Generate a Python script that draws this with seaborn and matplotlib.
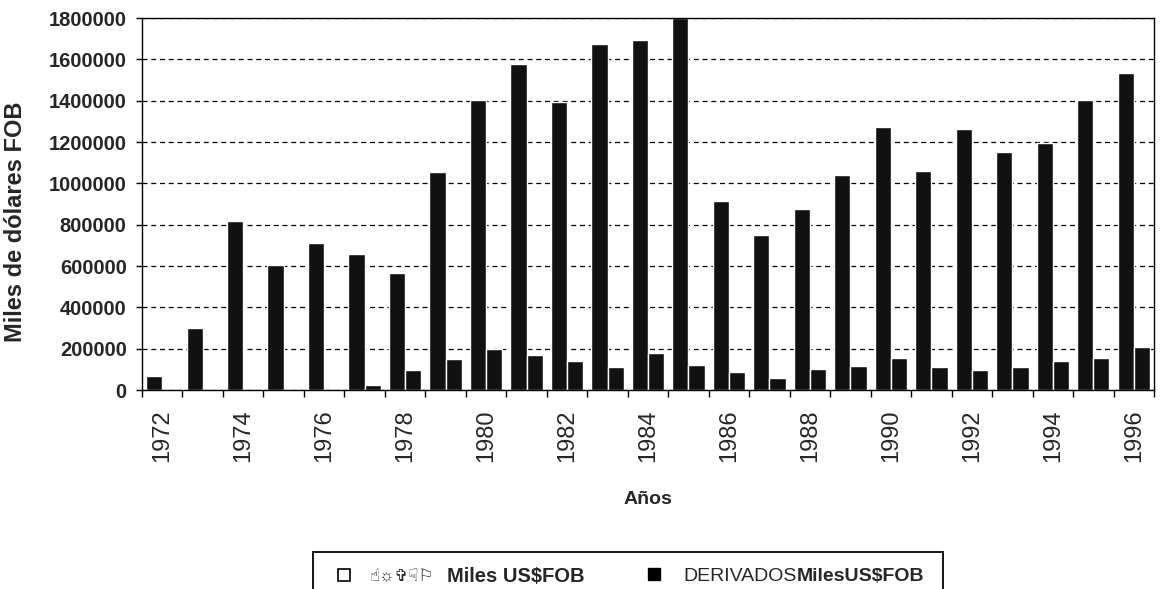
import matplotlib
matplotlib.use("Agg")
import matplotlib.pyplot as plt
import matplotlib.ticker as mticker
from matplotlib.lines import Line2D
from matplotlib.patches import Rectangle
import seaborn as sns
import pandas as pd

years = list(range(1972, 1997))
crudo = [70000, 300000, 820000, 605000, 710000, 660000, 565000, 1055000, 1403000,
         1576000, 1395000, 1674000, 1694000, 1800000, 916000, 750000, 874000,
         1040000, 1271000, 1058000, 1265000, 1153000, 1197000, 1403000, 1532000]
derivados = [0, 0, 0, 0, 0, 25000, 95000, 148000, 197000, 169000, 142000, 110000,
             181000, 121000, 85000, 60000, 100000, 116000, 153000, 110000, 97000,
             113000, 140000, 153000, 210000]
series_names = ["CRUDO", "DERIVADOS"]
yticks = list(range(0, 1800001, 200000))
label_crudo_sym = "\u261d\u263c\u271e\u261f\u2690"
label_crudo_bold = "Miles US$FOB"
label_deriv_reg = "DERIVADOS"
label_deriv_bold = "MilesUS$FOB"

df = pd.DataFrame({
    "year": [str(y) for y in years] * 2,
    "value": crudo + derivados,
    "serie": [series_names[0]] * len(years) + [series_names[1]] * len(years),
})

sns.set_style("white")
plt.rcParams["font.family"] = ["Liberation Sans", "DejaVu Sans"]

fig = plt.figure(figsize=(11.63, 5.89), dpi=100)
ax = fig.add_axes([142 / 1163, 1 - 390 / 589, (1154 - 142) / 1163, (390 - 18) / 589])

sns.barplot(data=df, x="year", y="value", hue="serie", palette=["#111111", "#111111"],
            width=0.8, dodge=True, saturation=1, legend=False, ax=ax, errorbar=None)

ax.set_xlim(-0.5, len(years) - 0.5)
ax.set_ylim(0, 1800000)
ax.set_yticks(yticks)
ax.yaxis.set_major_formatter(mticker.FuncFormatter(lambda v, p: f"{int(v)}"))
for lab in ax.get_yticklabels():
    lab.set_fontweight("bold")
ax.tick_params(axis="y", which="major", length=4, width=1, color="black",
               labelsize=14.5, pad=7, left=True, direction="out")

ax.set_xticks(list(range(0, len(years), 2)))
ax.set_xticklabels([str(y) for y in years[::2]], rotation=90, fontsize=17)
ax.tick_params(axis="x", which="major", length=0, pad=14)
ax.xaxis.set_minor_locator(mticker.FixedLocator([i - 0.5 for i in range(len(years) + 1)]))
ax.tick_params(axis="x", which="minor", length=5, width=1, color="black", bottom=True, direction="out")

ax.grid(axis="y", which="major", linestyle=(0, (4, 3)), color="black", linewidth=0.9)
ax.set_axisbelow(True)
for s in ax.spines.values():
    s.set_visible(True)
    s.set_color("black")
    s.set_linewidth(1.0)

ax.set_xlabel("")
ax.set_ylabel("Miles de dólares FOB", fontsize=17, fontweight="bold")
ax.yaxis.set_label_coords((27 - 142) / 1012, (390 - 222) / 372)
fig.text(648 / 1163, 1 - 500 / 589, "Años", fontsize=14, fontweight="bold",
         ha="center", va="center")

h1 = Line2D([], [], linestyle="none", marker="s", markersize=9, markerfacecolor="white",
            markeredgecolor="black", markeredgewidth=1.2)
h2 = Line2D([], [], linestyle="none", marker="s", markersize=9, markerfacecolor="black",
            markeredgecolor="black")
common = dict(loc="center left", frameon=False, handlelength=1.0, handletextpad=1.0,
              borderpad=0, borderaxespad=0)
leg1 = fig.legend([h1], [label_crudo_sym], bbox_to_anchor=((345 - 9) / 1163, 1 - 576 / 589),
                  fontsize=12, **common)
leg2 = fig.legend([h2], [label_deriv_reg], bbox_to_anchor=((653 - 9) / 1163, 1 - 576 / 589),
                  fontsize=14, **common)
fig.canvas.draw()
t1 = leg1.get_texts()[0]
t2 = leg2.get_texts()[0]
ax.annotate(label_crudo_bold, xy=(1, 0.5), xycoords=t1, xytext=(10, 0),
            textcoords="offset points", ha="left", va="center", fontsize=14.5,
            fontweight="bold", annotation_clip=False)
ax.annotate(label_deriv_bold, xy=(1, 0), xycoords=t2, xytext=(0, 0),
            textcoords="offset points", ha="left", va="bottom", fontsize=14,
            fontweight="bold", annotation_clip=False)
fig.patches.append(Rectangle((313 / 1163, -0.05), (943 - 313) / 1163, 0.05 + (589 - 552) / 589,
                             transform=fig.transFigure, fill=False, edgecolor="black",
                             linewidth=1.3))

fig.savefig("out.png", dpi=100)
